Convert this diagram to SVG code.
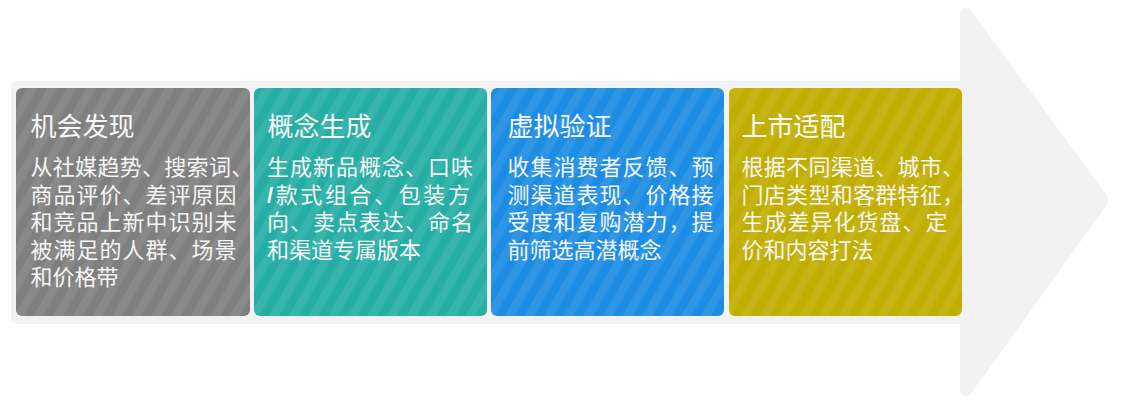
<svg xmlns="http://www.w3.org/2000/svg" width="1128" height="417" viewBox="0 0 1128 417">
<style>
.bg{fill:#f2f2f2}
.t{font-family:"Noto Sans CJK SC","Noto Sans",sans-serif;font-size:26px;fill:#f8f8f8}
.b{font-family:"Noto Sans CJK SC","Noto Sans",sans-serif;font-size:22px;fill:#f5f5f5}
.j{letter-spacing:1px}
.j10{letter-spacing:0.3px}
.sl{font-family:"Liberation Sans","Noto Sans",sans-serif;font-weight:bold}
</style>
<defs>
<pattern id="stripe" width="17" height="17" patternUnits="userSpaceOnUse" patternTransform="rotate(30)">
<rect x="0" y="0" width="8.5" height="17" fill="#ffffff" fill-opacity="0.08"/>
</pattern>
</defs>
<g id="arrow">
<rect class="bg" x="11" y="81" width="960" height="243" rx="6"/>
<polygon class="bg" points="966,14 1103,200 966,390" stroke="#f2f2f2" stroke-width="12" stroke-linejoin="round"/>
</g>
<g id="connectors"></g>
<g id="node1">
<rect x="16" y="88" width="234" height="228" rx="6" fill="#7f7f7f"/>
<rect x="16" y="88" width="234" height="228" rx="6" fill="url(#stripe)"/>
<text class="t" x="30.5" y="136">机会发现</text>
<text class="b"><tspan class="j10" x="30.5" y="175">从社媒趋势、搜索词、</tspan><tspan class="j" x="30.5" y="202.5">商品评价、差评原因</tspan><tspan class="j" x="30.5" y="230">和竞品上新中识别未</tspan><tspan class="j" x="30.5" y="257.5">被满足的人群、场景</tspan><tspan x="30.5" y="285">和价格带</tspan></text>
</g>
<g id="node2">
<rect x="254" y="88" width="233" height="228" rx="6" fill="#26aea5"/>
<rect x="254" y="88" width="233" height="228" rx="6" fill="url(#stripe)"/>
<text class="t" x="267.5" y="136">概念生成</text>
<text class="b"><tspan class="j" x="267" y="175">生成新品概念、口味</tspan><tspan x="267" y="202.5" style="letter-spacing:2.6px"><tspan class="sl">/</tspan>款式组合、包装方</tspan><tspan class="j" x="267" y="230">向、卖点表达、命名</tspan><tspan x="267" y="257.5">和渠道专属版本</tspan></text>
</g>
<g id="node3">
<rect x="491" y="88" width="233" height="228" rx="6" fill="#1d8de4"/>
<rect x="491" y="88" width="233" height="228" rx="6" fill="url(#stripe)"/>
<text class="t" x="507.5" y="136">虚拟验证</text>
<text class="b"><tspan class="j" x="507.5" y="175">收集消费者反馈、预</tspan><tspan class="j" x="507.5" y="202.5">测渠道表现、价格接</tspan><tspan class="j" x="507.5" y="230">受度和复购潜力，提</tspan><tspan x="507.5" y="257.5">前筛选高潜概念</tspan></text>
</g>
<g id="node4">
<rect x="729" y="88" width="233" height="228" rx="6" fill="#c0ae00"/>
<rect x="729" y="88" width="233" height="228" rx="6" fill="url(#stripe)"/>
<text class="t" x="741.5" y="136">上市适配</text>
<text class="b"><tspan class="j10" x="741.5" y="175">根据不同渠道、城市、</tspan><tspan class="j10" x="741.5" y="202.5">门店类型和客群特征，</tspan><tspan class="j" x="741.5" y="230">生成差异化货盘、定</tspan><tspan x="741.5" y="257.5">价和内容打法</tspan></text>
</g>
</svg>
